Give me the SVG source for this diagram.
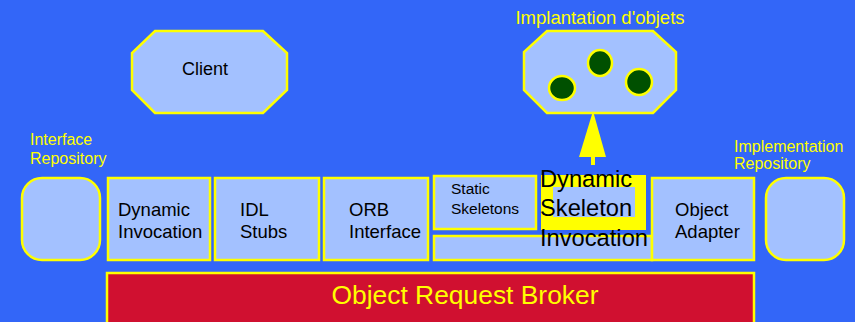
<svg xmlns="http://www.w3.org/2000/svg" width="855" height="322" viewBox="0 0 855 322">
  <style>
    .box { fill: #A3C1FF; stroke: #FFFF00; stroke-width: 2.5; }
    .lbl { font-family: "Liberation Sans", Arial, sans-serif; fill: #000000; font-size: 18.5px; }
    .note { font-family: "Liberation Sans", Arial, sans-serif; fill: #FFFF00; font-size: 16px; }
    .small { font-size: 15.5px; }
    .big { font-size: 23.7px; }
    .obj { fill: #005000; stroke: #FFFF00; stroke-width: 2.5; }
  </style>
  <rect x="0" y="0" width="855" height="322" fill="#3366F8"/>

  <!-- client -->
  <g id="client">
    <polygon class="box" points="155,31 263,31 287,53 287,90 263,113 155,113 132,90 132,53"/>
    <text class="lbl" x="205" y="75" style="font-size:18px" text-anchor="middle">Client</text>
  </g>

  <!-- object implementations -->
  <g id="implantation">
    <text class="note" x="600" y="24" style="font-size:18.5px" text-anchor="middle">Implantation d'objets</text>
    <polygon class="box" points="547,31 653,31 676,52 676,90 653,113 547,113 524,90 524,52"/>
    <ellipse class="obj" cx="562" cy="88" rx="13" ry="12"/>
    <ellipse class="obj" cx="600" cy="63" rx="12" ry="13"/>
    <ellipse class="obj" cx="639" cy="82" rx="13" ry="13"/>
  </g>

  <!-- interface repository -->
  <g id="interface-repository">
    <text class="note" x="30" y="145">Interface</text>
    <text class="note" x="30" y="164">Repository</text>
    <rect class="box" x="22" y="178" width="78" height="82" rx="20"/>
  </g>

  <g id="dynamic-invocation">
    <rect class="box" x="108" y="178" width="102" height="82"/>
    <text class="lbl" x="118" y="216">Dynamic</text>
    <text class="lbl" x="118" y="238">Invocation</text>
  </g>

  <g id="idl-stubs">
    <rect class="box" x="215" y="178" width="104" height="82"/>
    <text class="lbl" x="240" y="216">IDL</text>
    <text class="lbl" x="240" y="238">Stubs</text>
  </g>

  <g id="orb-interface">
    <rect class="box" x="324" y="178" width="104" height="82"/>
    <text class="lbl" x="349" y="216">ORB</text>
    <text class="lbl" x="349" y="238">Interface</text>
  </g>

  <g id="skeleton-base">
    <rect class="box" x="434" y="236" width="218" height="24"/>
  </g>

  <g id="static-skeletons">
    <rect class="box" x="434" y="176" width="102" height="53"/>
    <text class="lbl small" x="451" y="194">Static</text>
    <text class="lbl small" x="451" y="214">Skeletons</text>
  </g>

  <g id="dynamic-skeleton">
    <rect x="541" y="175" width="105" height="55" fill="#FFFF00"/>
    <rect x="553" y="187" width="82" height="30" fill="#A3C1FF"/>
    <text class="lbl big" x="540" y="187">Dynamic</text>
    <text class="lbl big" x="540" y="216">Skeleton</text>
    <text class="lbl big" x="540" y="246">Invocation</text>
  </g>

  <g id="object-adapter">
    <rect class="box" x="652" y="178" width="102" height="82"/>
    <text class="lbl" x="675" y="216">Object</text>
    <text class="lbl" x="675" y="238">Adapter</text>
  </g>

  <!-- implementation repository -->
  <g id="implementation-repository">
    <text class="note" x="734" y="152">Implementation</text>
    <text class="note" x="734" y="169">Repository</text>
    <rect class="box" x="766" y="178" width="78" height="82" rx="20"/>
  </g>

  <!-- object request broker bar -->
  <g id="orb">
    <rect x="107" y="273" width="647" height="55" fill="#D01030" stroke="#FFFF00" stroke-width="2.5"/>
    <text x="465" y="304" font-family="'Liberation Sans', Arial, sans-serif" font-size="26.4" fill="#FFFF00" text-anchor="middle">Object Request Broker</text>
  </g>

  <!-- connectors -->
  <g id="connectors">
    <rect x="591" y="155" width="4" height="10" fill="#FFFF00"/>
    <polygon points="593,111 579,157 606,157" fill="#FFFF00"/>
  </g>
</svg>
